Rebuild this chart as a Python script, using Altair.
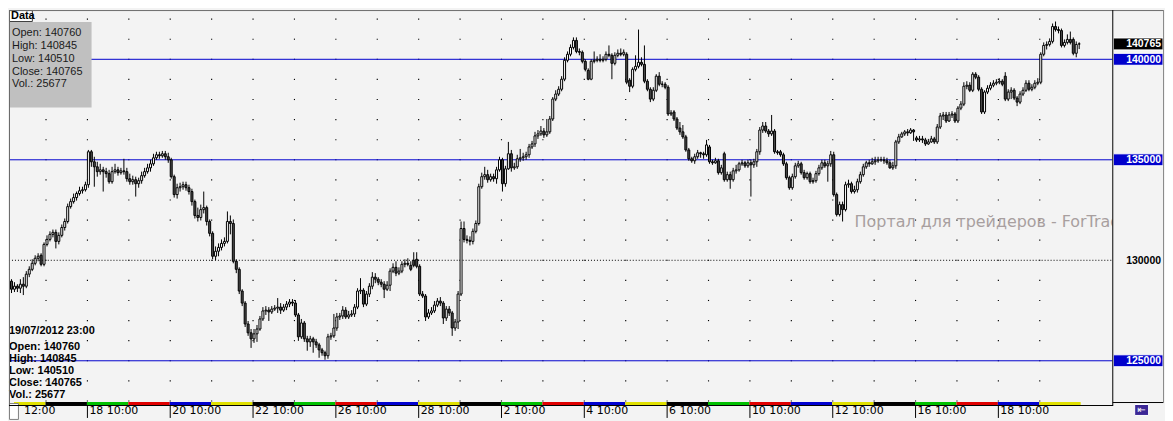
import altair as alt
import pandas as pd

# ---------------- data (hourly candles, 14 Jun 2012 12:00 .. 19 Jul 2012 23:00) ----------------
opens = [
    128960, 128560, 128710, 128610, 128810, 128710, 129310, 129550, 129850, 130100,
    130250, 129800, 130790, 131040, 131290, 131390, 130940, 131240, 131630, 131930,
    132670, 132920, 133120, 133320, 133460, 133510, 133760, 135400, 134900, 134650,
    134410, 134500, 134410, 134310, 133910, 134410, 134500, 134360, 134450, 134410,
    134060, 133910, 134010, 133810, 133960, 134210, 134410, 134600, 134800, 135100,
    135250, 135200, 135300, 135150, 135000, 134160, 133270, 133610, 133660, 133760,
    133610, 133420, 132920, 132230, 132130, 132520, 132620, 131930, 131340, 130200,
    130450, 130640, 130840, 130940, 131930, 131830, 129950, 129550, 128470, 127870,
    126830, 126390, 126090, 126340, 126580, 127080, 127480, 127520, 127430, 127570,
    127620, 127670, 127520, 127670, 127820, 127920, 127870, 127280, 126190, 126880,
    126090, 125940, 126090, 125940, 125790, 125540, 125400, 125250, 126190, 126240,
    126630, 127180, 127230, 127520, 127180, 127280, 127330, 127670, 128470, 128510,
    127820, 128320, 128710, 129160, 129060, 128910, 128810, 128560, 128760, 129460,
    129650, 129360, 129460, 129800, 129850, 129750, 130000, 130050, 129700, 128320,
    128220, 127180, 127380, 127480, 127770, 127970, 127870, 127130, 127570, 127380,
    126630, 126930, 128320, 131580, 131040, 130990, 130940, 131440, 131830, 133660,
    134160, 134260, 134010, 134160, 134060, 134500, 135000, 133810, 134550, 135300,
    134600, 134650, 135050, 135100, 135150, 135250, 135640, 135790, 136190, 136290,
    136430, 136240, 136390, 137030, 138020, 138270, 138510, 139010, 139950, 140250,
    140590, 140940, 140390, 140350, 139900, 139450, 139010, 139900, 139950, 140000,
    139950, 140000, 140250, 140200, 139800, 140200, 140300, 140250, 140250, 138960,
    138660, 139500, 139650, 139850, 139750, 138910, 138510, 138020, 138460, 139160,
    138760, 138760, 138610, 137280, 137380, 137030, 136580, 136390, 136140, 135490,
    135050, 134950, 135150, 135350, 135300, 135250, 135640, 134900, 134850, 134950,
    134360, 135300, 134010, 134260, 134010, 134450, 134500, 134800, 134850, 134700,
    134850, 134750, 134900, 135400, 136480, 136680, 136430, 136290, 136430, 135400,
    135400, 135250, 134800, 134110, 133610, 134160, 134700, 134800, 134360, 134110,
    134310, 133910, 133960, 134310, 134600, 134850, 134700, 134800, 135250, 133270,
    132280, 132770, 132520, 133760, 133810, 133420, 133510, 133910, 134260, 134650,
    134850, 134800, 134900, 134950, 135000, 135000, 134950, 134850, 134600, 134700,
    135890, 136140, 136290, 136390, 136340, 136480, 136090, 135990, 136040, 135990,
    135790, 135890, 136040, 135890, 136630, 137180, 137230, 136930, 137230, 137280,
    136930, 137570, 137770, 138660, 138710, 138460, 139260, 139110, 138510, 137380,
    138370, 138560, 138710, 138810, 138860, 138910, 139160, 138020, 138370, 138460,
    138070, 137870, 138270, 138460, 138810, 138510, 138610, 138810, 138860, 140250,
    140690, 140740, 140890, 141630, 141480, 141430, 140690, 140840, 140990, 140990,
    140300, 140760,
]
highs = [
    129060, 128910, 128810, 129060, 129160, 129460, 129700, 130050, 130250, 130350,
    130350, 130890, 131240, 131440, 131530, 131530, 131390, 131780, 132080, 132820,
    133070, 133320, 133420, 133660, 133660, 133910, 135490, 135490, 135150, 134900,
    134800, 134650, 134600, 134500, 134650, 134800, 134650, 134600, 135050, 134600,
    134310, 134210, 134160, 134110, 134410, 134600, 134800, 135000, 135300, 135400,
    135400, 135440, 135440, 135350, 135100, 134260, 133810, 133860, 133910, 133910,
    133760, 133560, 133020, 132620, 132770, 133420, 132720, 132030, 131440, 130690,
    130840, 131040, 131140, 132430, 132230, 132030, 130050, 129650, 128560, 127970,
    126980, 126580, 126580, 126780, 127230, 127670, 127720, 127670, 127720, 127770,
    128120, 127870, 127820, 127970, 128070, 128070, 128020, 127380, 127080, 126980,
    126240, 126240, 126190, 126090, 125890, 125640, 125500, 126340, 126390, 127330,
    127380, 127380, 127720, 127670, 127480, 127520, 127820, 128610, 129110, 128610,
    128470, 128860, 129410, 129360, 129160, 129060, 128960, 128960, 129600, 129850,
    129950, 129650, 129950, 130050, 130100, 129950, 130400, 130400, 129800, 128470,
    128320, 127570, 127670, 127970, 128120, 128170, 127970, 127720, 127720, 127480,
    127080, 128470, 131930, 131930, 131240, 131190, 131580, 131980, 133810, 134360,
    134650, 134500, 134310, 134310, 134650, 135150, 135100, 134700, 135890, 135490,
    134850, 135250, 135540, 135350, 135400, 135790, 135940, 136390, 136480, 136680,
    136580, 137030, 137180, 138120, 138460, 138660, 139160, 140100, 140390, 140740,
    141090, 141090, 140540, 140440, 140000, 139550, 140000, 140390, 140150, 140250,
    140150, 140390, 140690, 140300, 140350, 140490, 140540, 140490, 140350, 139060,
    139600, 140200, 141480, 140100, 140690, 139010, 138610, 138610, 139260, 139360,
    138910, 138860, 138710, 137470, 137470, 137130, 136880, 136730, 136240, 135590,
    135150, 135300, 135490, 135400, 135400, 135990, 135740, 135000, 135100, 135050,
    134750, 135400, 134410, 134410, 134600, 134750, 134900, 135000, 134950, 135000,
    135000, 135050, 135540, 136630, 136880, 136880, 136530, 137230, 136530, 135490,
    135490, 135350, 134900, 134210, 134310, 134850, 134950, 134900, 134500, 134410,
    134410, 134110, 134450, 134750, 135000, 135000, 134950, 135440, 135400, 133370,
    132920, 132920, 133910, 134010, 133910, 133710, 134060, 134410, 134800, 134950,
    135000, 135100, 135150, 135150, 135150, 135150, 135100, 135000, 134900, 135990,
    136290, 136390, 136480, 136530, 136580, 136530, 136190, 136190, 136190, 136090,
    136040, 136190, 136140, 136780, 137330, 137380, 137380, 137380, 137420, 137380,
    137670, 137920, 138860, 138910, 138860, 139360, 139360, 139210, 138610, 138460,
    138710, 138860, 138960, 139010, 139060, 139010, 139360, 138510, 138610, 138560,
    138170, 138410, 138610, 138960, 138960, 138760, 138960, 139060, 140350, 140840,
    140890, 141040, 141780, 141880, 141630, 141530, 140990, 141240, 141380, 141090,
    140890, 140845,
]
lows = [
    128370, 128420, 128420, 128370, 128270, 128610, 129160, 129460, 129750, 129950,
    129700, 129700, 130690, 130940, 131140, 130590, 130790, 131140, 131480, 131830,
    132570, 132820, 132970, 133220, 133320, 133420, 133610, 134650, 133660, 134160,
    134260, 133420, 134110, 133810, 133810, 134310, 134210, 134260, 134260, 133910,
    133760, 133760, 133170, 133610, 133810, 134110, 134310, 134410, 134700, 135000,
    135050, 135100, 135000, 134850, 134060, 133120, 133070, 133420, 133510, 133460,
    133270, 132720, 132080, 131930, 131980, 132330, 131730, 131190, 130050, 130000,
    130200, 130490, 130690, 130840, 131290, 129850, 129360, 128320, 127720, 126680,
    126240, 125640, 125890, 125940, 126490, 126980, 127280, 126980, 127330, 127480,
    127380, 127330, 127430, 127520, 127670, 127720, 127180, 125990, 126090, 125940,
    125500, 125690, 125400, 125640, 125150, 125250, 125050, 125100, 126040, 126140,
    126490, 127030, 127080, 127080, 127080, 127180, 127180, 127570, 128320, 127670,
    127720, 128170, 128560, 128860, 128760, 128660, 128120, 128470, 128470, 129360,
    129210, 129260, 129360, 129650, 129700, 129460, 129650, 129600, 128220, 128120,
    126980, 127080, 127280, 127380, 127670, 127720, 126830, 126980, 127230, 126240,
    126490, 126580, 128220, 130890, 130840, 130740, 130790, 131340, 131730, 133560,
    134010, 133860, 133910, 133910, 133810, 134410, 133420, 133660, 134500, 134410,
    134500, 134550, 134900, 134950, 135000, 135100, 135540, 135640, 136040, 136190,
    136090, 136140, 136290, 136930, 137920, 138170, 138410, 138910, 139850, 140150,
    140490, 140300, 140200, 139800, 139400, 138960, 138960, 139800, 139850, 139850,
    139850, 139900, 140100, 139010, 139700, 140100, 140150, 140150, 138760, 138370,
    138560, 139400, 139550, 139650, 138810, 138410, 137870, 137920, 138370, 138660,
    138610, 138510, 137180, 137180, 136930, 136480, 136240, 136040, 135400, 134950,
    134850, 134800, 135050, 135100, 135050, 135150, 134800, 134750, 134800, 134260,
    134260, 133910, 133910, 133560, 133910, 134310, 134410, 134700, 134600, 134600,
    133170, 134600, 134650, 135250, 136340, 136340, 136140, 136190, 135300, 135250,
    135150, 134700, 134010, 133510, 133510, 134060, 134600, 134260, 134010, 134010,
    133810, 133810, 133860, 134210, 134500, 134600, 133910, 134650, 133170, 132180,
    132180, 131930, 132430, 133610, 133320, 133320, 133370, 133810, 134160, 134550,
    134650, 134750, 134750, 134850, 134900, 134800, 134750, 134550, 134500, 134550,
    135790, 136090, 136190, 136190, 136290, 135940, 135890, 135890, 135840, 135690,
    135740, 135840, 135790, 135790, 136530, 136980, 136830, 136880, 137080, 136830,
    136830, 137470, 137670, 138510, 138370, 138370, 139010, 138410, 137280, 137280,
    138270, 138460, 138610, 138710, 138760, 138660, 137920, 137920, 138020, 137970,
    137670, 137770, 138170, 138370, 138410, 138410, 138510, 138710, 138760, 140150,
    140490, 140640, 140790, 141380, 141290, 140590, 140590, 140740, 140740, 140200,
    140100, 140510,
]
closes = [
    128560, 128710, 128610, 128810, 128710, 129310, 129550, 129850, 130100, 130200,
    129800, 130790, 131040, 131290, 131390, 130940, 131240, 131630, 131930, 132670,
    132920, 133120, 133320, 133460, 133510, 133760, 135400, 134900, 134650, 134410,
    134500, 134410, 134310, 133910, 134410, 134500, 134360, 134450, 134410, 134060,
    133910, 134010, 133810, 133960, 134210, 134410, 134600, 134800, 135100, 135250,
    135200, 135300, 135150, 135000, 134160, 133270, 133610, 133660, 133760, 133610,
    133420, 132920, 132230, 132130, 132520, 132620, 131930, 131340, 130200, 130450,
    130640, 130840, 130940, 131930, 131830, 129950, 129550, 128470, 127870, 126830,
    126390, 126090, 126340, 126580, 127080, 127480, 127520, 127430, 127570, 127620,
    127670, 127520, 127670, 127820, 127920, 127870, 127280, 126190, 126880, 126090,
    125940, 126090, 125940, 125790, 125540, 125400, 125250, 126190, 126240, 126630,
    127180, 127230, 127520, 127180, 127280, 127330, 127670, 128470, 128510, 127820,
    128320, 128710, 129160, 129060, 128910, 128810, 128560, 128760, 129460, 129650,
    129360, 129460, 129800, 129850, 129800, 129550, 129750, 129700, 128320, 128220,
    127180, 127380, 127480, 127770, 127970, 127870, 127130, 127570, 127380, 126630,
    126930, 128320, 131580, 131040, 130990, 130940, 131440, 131830, 133660, 134160,
    134260, 134010, 134160, 134060, 134500, 135000, 133810, 134550, 135300, 134600,
    134650, 135050, 135100, 135150, 135250, 135640, 135790, 136190, 136290, 136430,
    136240, 136390, 137030, 138020, 138270, 138510, 139010, 139950, 140250, 140590,
    140940, 140390, 140350, 139900, 139500, 139010, 139900, 139950, 140000, 139950,
    140000, 140250, 140200, 139800, 140200, 140300, 140250, 140350, 138860, 138660,
    139500, 139650, 139850, 139750, 138910, 138510, 138020, 138460, 139160, 138760,
    138760, 138610, 137280, 137330, 137030, 136580, 136390, 136140, 135490, 135050,
    134950, 135150, 135350, 135300, 135250, 135740, 134900, 134850, 134950, 134360,
    134600, 134010, 134260, 134010, 134450, 134500, 134800, 134850, 134700, 134850,
    134750, 134900, 135400, 136480, 136680, 136430, 136290, 136430, 135400, 135350,
    135250, 134800, 134110, 133610, 134160, 134700, 134800, 134360, 134110, 134310,
    133910, 133960, 134310, 134600, 134850, 134700, 134800, 135250, 133270, 132280,
    132770, 132520, 133760, 133810, 133420, 133510, 133910, 134260, 134650, 134850,
    134800, 134900, 134950, 135000, 135000, 134950, 134850, 134600, 134700, 135890,
    136140, 136290, 136390, 136340, 136480, 136390, 135990, 136040, 135990, 135790,
    135890, 136040, 135890, 136630, 137180, 137230, 136930, 137230, 137280, 136930,
    137570, 137770, 138660, 138710, 138460, 139260, 139110, 138510, 137380, 138370,
    138560, 138710, 138810, 138860, 138910, 138760, 138020, 138370, 138460, 138070,
    137870, 138270, 138460, 138810, 138510, 138610, 138810, 138860, 140250, 140690,
    140740, 140890, 141630, 141480, 141430, 140690, 140840, 140990, 140840, 140300,
    140740, 140765,
]

day_numbers = [14, 15, 18, 19, 20, 21, 22, 25, 26, 27, 28, 29, 2, 3, 4, 5, 6, 9, 10, 11, 12, 13, 16, 17, 18, 19]
day_weekdays = ["Thu", "Fri", "Mon", "Tue", "Wed", "Thu", "Fri", "Mon", "Tue", "Wed", "Thu", "Fri", "Mon",
                "Tue", "Wed", "Thu", "Fri", "Mon", "Tue", "Wed", "Thu", "Fri", "Mon", "Tue", "Wed", "Thu"]
day_first_hour = [12] + [10] * 25
last_hour = 23

blue_levels = [140000, 135000, 125000]
dotted_levels = [130000]
scale_labels = [125000, 130000, 135000, 140000]

last_date = "19/07/2012 23:00"
last_open, last_high, last_low, last_close, last_vol = 140760, 140845, 140510, 140765, 25677

watermark = "Портал для трейдеров - ForTrader.ru"

# ---------------- tables ----------------
n = len(closes)
candles = pd.DataFrame({"i": list(range(n)), "o": opens, "h": highs, "l": lows, "c": closes})
candles["dir"] = ["up" if c >= o else "down" for o, c in zip(opens, closes)]

W, H = 1109, 395
X_MIN, X_MAX = 2.5 / 3, 2.5 / 3 + W / 3
PX = 49.5  # price units per pixel
Y_MAX = 140000 + 49.5 * PX
Y_MIN = Y_MAX - H * PX
xs = alt.Scale(domain=[X_MIN, X_MAX], nice=False, zero=False)
ys = alt.Scale(domain=[Y_MIN, Y_MAX], nice=False, zero=False)


def X(f):
    return alt.X(f, type="quantitative", scale=xs, axis=None)


def Y(f):
    return alt.Y(f, type="quantitative", scale=ys, axis=None)


day_rows = []
start = 0
for k, (d, wd, fh) in enumerate(zip(day_numbers, day_weekdays, day_first_hour)):
    cnt = last_hour - fh + 1
    day_rows.append({"k": k, "day": d, "wd": wd, "b0": max(start - 0.5, X_MIN), "b1": start + cnt - 0.5,
                     "b": start - 0.5, "label": f"{d} {fh:02d}:00"})
    start += cnt
days = pd.DataFrame(day_rows)
labels = days[(days["k"] % 2 == 0) & (days["k"] > 0)]

grid = pd.DataFrame([{"b": b, "p": p} for b in days["b"][1:] for p in range(123000, 143000, 1000)])

lvl_blue = pd.DataFrame({"p": blue_levels})
lvl_dot = pd.DataFrame({"p": dotted_levels})
boxed_vals = [last_close] + [v for v in scale_labels if v in blue_levels]
boxed = pd.DataFrame({"p": boxed_vals, "kind": ["current"] + ["level"] * (len(boxed_vals) - 1)})
boxed["label"] = boxed["p"].astype(str)
plain = pd.DataFrame({"p": [v for v in scale_labels if v not in blue_levels]})
plain["label"] = plain["p"].astype(str)
one = pd.DataFrame({"a": [0]})

BG = "#f3f3f3"
BLUE = "#0000cc"
WEEKDAY_COLORS = {"Mon": "#00c000", "Tue": "#e00000", "Wed": "#0000d0", "Thu": "#e0e000", "Fri": "#000000"}

layers = []

# grid dots
layers.append(alt.Chart(grid).mark_square(size=1.3, color="#000000", opacity=1, xOffset=0.5)
              .encode(x=X("b"), y=Y("p")))
# level lines
layers.append(alt.Chart(lvl_dot).mark_rule(color="#000000", strokeWidth=1, strokeDash=[1, 2])
              .encode(y=Y("p"), x=alt.value(0), x2=alt.value(W)))
layers.append(alt.Chart(lvl_blue).mark_rule(color=BLUE, strokeWidth=1)
              .encode(y=Y("p"), x=alt.value(0), x2=alt.value(W)))
# watermark
layers.append(alt.Chart(one).mark_text(text=watermark, align="left", baseline="middle", font="DejaVu Sans",
                                       fontSize=16, color="#a89f9f", clip=True)
              .encode(x=alt.value(850), y=alt.value(213)))
# candles
layers.append(alt.Chart(candles).mark_rule(color="#000000", strokeWidth=1, clip=True)
              .encode(x=X("i"), y=Y("l"), y2="h"))
for direction, fill in (("up", "#ffffff"), ("down", "#4d4d4d")):
    layers.append(alt.Chart(candles).transform_filter(alt.datum.dir == direction)
                  .mark_bar(size=2, stroke="#000000", strokeWidth=1, clip=True, orient="vertical", fill=fill)
                  .encode(x=X("i"), y=Y("o"), y2="c"))

# top-left "Data" tab and info box
layers.append(alt.Chart(one).mark_rect(fill="#c0c0c0")
              .encode(x=alt.value(0), x2=alt.value(83), y=alt.value(12), y2=alt.value(98)))
layers.append(alt.Chart(one).mark_rect(fill="#ffffff", stroke="#404040", strokeWidth=1)
              .encode(x=alt.value(0.5), x2=alt.value(23.5), y=alt.value(0.5), y2=alt.value(11.5)))
layers.append(alt.Chart(one).mark_text(text="Data", align="left", baseline="top", font="Liberation Sans",
                                       fontWeight="bold", fontSize=11, color="#000000")
              .encode(x=alt.value(2), y=alt.value(0)))
top_lines = [f"Open: {last_open}", f"High: {last_high}", f"Low: {last_low}", f"Close: {last_close}",
             f"Vol.: {last_vol}"]
for k, t in enumerate(top_lines):
    layers.append(alt.Chart(one).mark_text(text=t, align="left", baseline="middle", font="Liberation Sans",
                                           fontSize=11, color="#1a1a1a")
                  .encode(x=alt.value(3), y=alt.value(23.5 + 12.8 * k)))

# bottom-left info
bottom_lines = [last_date] + top_lines
for k, t in enumerate(bottom_lines):
    yy = 322.5 if k == 0 else 339 + 11.9 * (k - 1)
    layers.append(alt.Chart(one).mark_text(text=t, align="left", baseline="middle", font="Liberation Sans",
                                           fontWeight="bold", fontSize=11, color="#000000")
                  .encode(x=alt.value(0), y=alt.value(yy)))

# right price scale
for kind, fill in (("current", "#000000"), ("level", BLUE)):
    layers.append(alt.Chart(boxed).transform_filter(alt.datum.kind == kind)
                  .transform_calculate(y0=f"datum.p - {6 * PX}", y1=f"datum.p + {6 * PX}")
                  .mark_rect(stroke="#ffffff", strokeWidth=1, fill=fill)
                  .encode(x=alt.value(1110), x2=alt.value(1160), y=Y("y0"), y2="y1"))
layers.append(alt.Chart(boxed).mark_text(align="right", baseline="middle", font="Liberation Sans",
                                         fontWeight="bold", fontSize=10.5, color="#ffffff", dy=0.5)
              .encode(x=alt.value(1158), y=Y("p"), text="label:N"))
layers.append(alt.Chart(plain).mark_text(align="right", baseline="middle", font="Liberation Sans",
                                         fontWeight="bold", fontSize=10.5, color="#000000", dy=0.5)
              .encode(x=alt.value(1158), y=Y("p"), text="label:N"))

# time scale: weekday colour band, ticks, labels
for wd, col in WEEKDAY_COLORS.items():
    layers.append(alt.Chart(days).transform_filter(alt.datum.wd == wd)
                  .mark_rect(fill=col)
                  .encode(x=X("b0"), x2="b1", y=alt.value(394), y2=alt.value(397)))
layers.append(alt.Chart(labels).mark_rule(color="#000000", strokeWidth=1, xOffset=0.5)
              .encode(x=X("b"), y=alt.value(397), y2=alt.value(410)))
layers.append(alt.Chart(labels).mark_text(align="left", baseline="middle", dx=2.5, font="DejaVu Sans",
                                          fontSize=11, color="#000000")
              .encode(x=X("b"), y=alt.value(403.5), text="label:N"))
layers.append(alt.Chart(one).mark_text(text=f"{day_first_hour[0]}:00", align="left", baseline="middle",
                                       font="DejaVu Sans", fontSize=11, color="#000000")
              .encode(x=alt.value(15), y=alt.value(403.5)))
layers.append(alt.Chart(one).mark_rect(fill="#ffffff", stroke="#808080", strokeWidth=1)
              .encode(x=alt.value(0.5), x2=alt.value(9.5), y=alt.value(395.5), y2=alt.value(411.5)))

# frame lines
frame = [
    (0, 1161, 0.5, 0.5, "#6a6a6a"),
    (0.5, 0.5, 0, 397, "#6a6a6a"),
    (1109.5, 1109.5, 0, 397, "#000000"),
    (0, 1110, 397.5, 397.5, "#000000"),
    (1109.5, 1160.5, 394.5, 394.5, "#000000"),
    (1160.5, 1160.5, 0, 395, "#8a8a8a"),
]
for x1, x2, y1, y2, col in frame:
    layers.append(alt.Chart(one).mark_rule(color=col, strokeWidth=1)
                  .encode(x=alt.value(x1), x2=alt.value(x2), y=alt.value(y1), y2=alt.value(y2)))

# small scroll button bottom right
layers.append(alt.Chart(one).mark_rect(fill="#3c2896", stroke="#ffffff", strokeWidth=1)
              .encode(x=alt.value(1131.5), x2=alt.value(1145.5), y=alt.value(396.5), y2=alt.value(407.5)))
layers.append(alt.Chart(one).mark_text(text="⇤", align="center", baseline="middle", font="DejaVu Sans",
                                       fontSize=10, color="#ffffff")
              .encode(x=alt.value(1138.5), y=alt.value(402)))

chart = (alt.layer(*layers)
         .properties(width=W, height=H, padding=0, background=BG)
         .configure_view(stroke=None))

chart.save("out.html", embed_options={"renderer": "svg", "actions": False})
